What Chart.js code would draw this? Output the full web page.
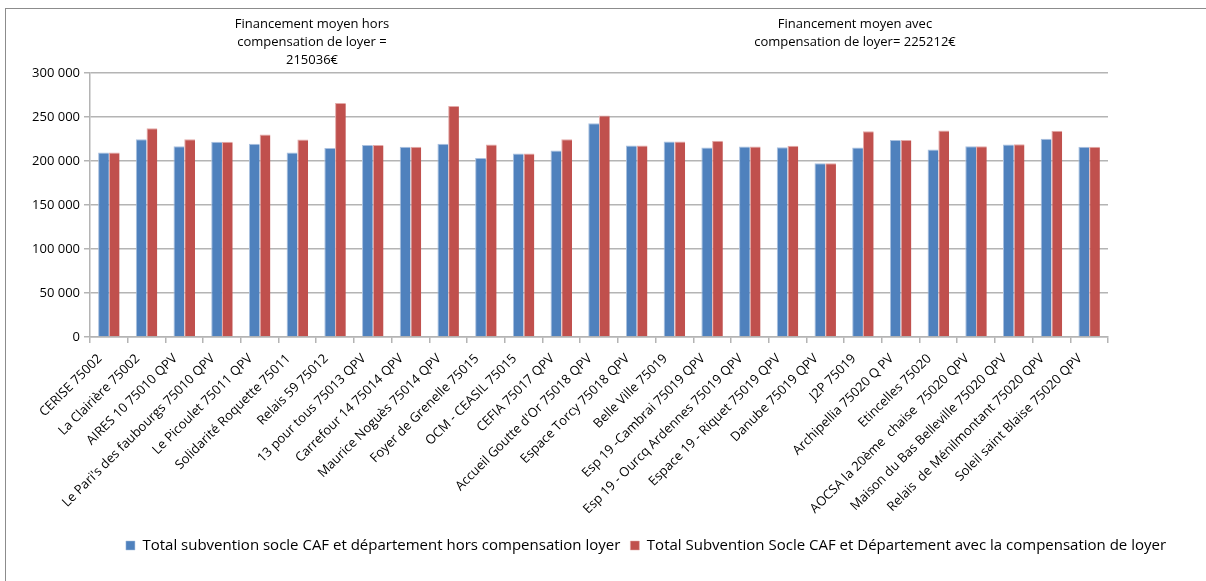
<!DOCTYPE html>
<html>
<head>
<meta charset="utf-8">
<script src="https://cdn.jsdelivr.net/npm/chart.js@4/dist/chart.umd.min.js"></script>
<style>
  body { margin: 0; background: #fff; font-family: "Open Sans", sans-serif; }
  #wrap { position: relative; width: 1206px; height: 581px; overflow: hidden; }
  #frame { position: absolute; left: 5px; top: 8px; width: 1260px; height: 640px; border: 1px solid #8c8c8c; }
  canvas { position: absolute; left: 0; top: 0; }
  .note { position: absolute; font-size: 13px; line-height: 18px; text-align: center; color: #000; }
</style>
</head>
<body>
<div id="wrap">
  <div id="frame"></div>
  <canvas id="chart" width="1206" height="581"></canvas>
  <div class="note" style="left:192px; top:14px; width:240px;">Financement moyen hors<br>compensation de loyer =<br>215036€</div>
  <div class="note" style="left:735px; top:14px; width:240px;">Financement moyen avec<br>compensation de loyer= 225212€</div>
</div>
<script>
// categories
var structures = [
  'CERISE 75002', 'La Clairière 75002', 'AIRES 10 75010 QPV', "Le Pari's des faubourgs 75010 QPV",
  'Le Picoulet 75011 QPV', 'Solidarité Roquette 75011', 'Relais 59 75012', '13 pour tous 75013 QPV',
  'Carrefour 14 75014 QPV', 'Maurice Noguès 75014 QPV', 'Foyer de Grenelle 75015', 'OCM - CEASIL 75015',
  'CEFIA 75017 QPV', "Accueil Goutte d'Or 75018 QPV", 'Espace Torcy 75018 QPV', 'Belle Ville 75019',
  'Esp 19 -Cambrai 75019 QPV', 'Esp 19 - Ourcq Ardennes 75019 QPV', 'Espace 19 - Riquet 75019 QPV',
  'Danube 75019 QPV', 'J2P 75019', 'Archipellia 75020 Q PV', 'Etincelles 75020',
  'AOCSA la 20ème  chaise  75020 QPV', 'Maison du Bas Belleville 75020 QPV',
  'Relais  de Ménilmontant 75020 QPV', 'Soleil saint Blaise 75020 QPV'
];

// hors compensation loyer
var horsCompensation = [
  209600, 224800, 216800, 221800, 219500, 209600, 214900, 218300,
  216100, 219500, 203500, 208500, 211900, 243000, 217600, 222100,
  215300, 216500, 215700, 197500, 215300, 224000, 213000, 216800,
  218700, 225200, 216100
];

// avec compensation loyer
var avecCompensation = [
  209600, 237300, 224800, 221800, 230100, 224400, 265800, 218300,
  216100, 262400, 218700, 208500, 224800, 251800, 217600, 222100,
  222900, 216500, 217200, 197500, 233900, 224000, 234700, 216800,
  219100, 234300, 216100
];

var seriesNames = [
  'Total subvention socle CAF et département hors compensation loyer',
  'Total Subvention Socle CAF et Département avec la compensation de loyer'
];

var yTicks = [0, 50000, 100000, 150000, 200000, 250000, 300000];

function fmt(v) {
  return String(v).replace(/\B(?=(\d{3})+(?!\d))/g, ' ');
}

var gridGrey = '#b4b4b4';

// the legend sits a bit right of the middle, like the original chart box
var legendShift = {
  id: 'legendShift',
  afterLayout: function(chart) {
    chart.legend.left += 92;
    chart.legend.right += 92;
  }
};

var config = {
  type: 'bar',
  data: {
    labels: structures,
    datasets: [{
      label: seriesNames[0],
      data: horsCompensation,
      backgroundColor: '#4f81bd',
      borderColor: '#a9c0df',
      borderWidth: { left: 1, top: 1, right: 0, bottom: 0 }
    }, {
      label: seriesNames[1],
      data: avecCompensation,
      backgroundColor: '#c0504d',
      borderColor: '#e3a9a7',
      borderWidth: { left: 1, top: 1, right: 0, bottom: 0 }
    }]
  },
  options: {
    responsive: false,
    animation: false,
    layout: { padding: { left: 0, right: 98, top: 73, bottom: 18 } },
    datasets: { bar: { categoryPercentage: 0.57, barPercentage: 1 } },
    plugins: {
      tooltip: { enabled: false },
      legend: {
        position: 'bottom',
        labels: {
          color: '#000',
          font: { family: 'Open Sans', size: 15 },
          boxWidth: 9,
          boxHeight: 9,
          padding: 10
        }
      }
    },
    scales: {
      x: {
        grid: {
          offset: true,
          drawOnChartArea: false,
          drawTicks: true,
          tickLength: 6,
          color: gridGrey,
          lineWidth: 1.5
        },
        border: { color: gridGrey, width: 1.5 },
        ticks: {
          color: '#000',
          font: { family: 'Open Sans', size: 13 },
          minRotation: 45,
          maxRotation: 45,
          autoSkip: false,
          padding: 8,
          labelOffset: -9
        },
        afterFit: function(scale) { scale.height = 191; }
      },
      y: {
        min: 0,
        max: 300000,
        afterBuildTicks: function(scale) {
          scale.ticks = yTicks.map(function(v) { return { value: v }; });
        },
        grid: { color: gridGrey, lineWidth: 1.5, tickLength: 6 },
        border: { color: gridGrey, width: 1.5 },
        ticks: {
          color: '#000',
          font: { family: 'Open Sans', size: 13 },
          padding: 4,
          callback: function(v) { return fmt(v); }
        },
        afterFit: function(scale) { scale.width = 90; }
      }
    }
  },
  plugins: [legendShift]
};

var ctx = document.getElementById('chart').getContext('2d');
window.myBar = new Chart(ctx, config);
</script>
</body>
</html>
